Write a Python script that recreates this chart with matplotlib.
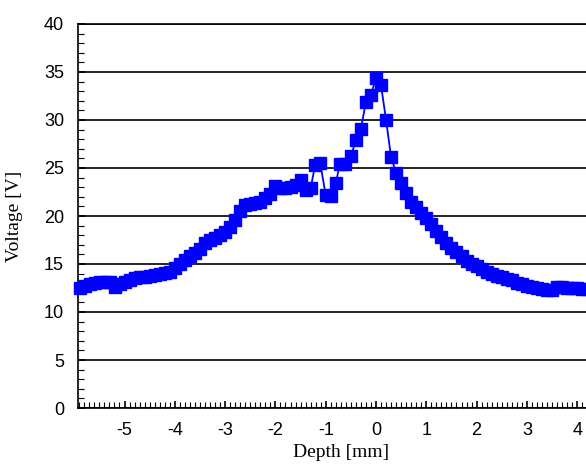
import matplotlib
matplotlib.use("Agg")
import matplotlib.pyplot as plt
from matplotlib.ticker import MultipleLocator

depth_mm = [-5.88, -5.79, -5.69, -5.59, -5.49, -5.39, -5.29, -5.18, -5.09, -4.99,
            -4.89, -4.79, -4.69, -4.59, -4.49, -4.39, -4.29, -4.19, -4.09, -3.99,
            -3.89, -3.80, -3.70, -3.60, -3.50, -3.40, -3.30, -3.20, -3.10, -3.00,
            -2.90, -2.80, -2.70, -2.60, -2.50, -2.40, -2.30, -2.20, -2.10, -2.00,
            -1.90, -1.80, -1.70, -1.60, -1.50, -1.40, -1.30, -1.21, -1.11, -1.00,
            -0.90, -0.80, -0.72, -0.62, -0.50, -0.40, -0.30, -0.20, -0.10, 0.00,
            0.10, 0.20, 0.30, 0.40, 0.50, 0.60, 0.70, 0.80, 0.90, 1.00,
            1.10, 1.20, 1.30, 1.40, 1.50, 1.60, 1.70, 1.80, 1.90, 2.00,
            2.10, 2.20, 2.30, 2.40, 2.50, 2.60, 2.70, 2.80, 2.90, 3.00,
            3.10, 3.20, 3.30, 3.40, 3.50, 3.60, 3.70, 3.80, 3.90, 4.00,
            4.10, 4.20]
voltage_v = [12.5, 12.7, 12.9, 13.0, 13.1, 13.1, 13.1, 12.6, 12.9, 13.1,
             13.3, 13.5, 13.6, 13.6, 13.8, 13.9, 14.0, 14.1, 14.2, 14.6,
             15.0, 15.4, 15.8, 16.1, 16.6, 17.2, 17.5, 17.7, 18.0, 18.3,
             18.9, 19.6, 20.5, 21.1, 21.3, 21.4, 21.5, 21.9, 22.3, 23.1,
             22.9, 22.9, 23.0, 23.2, 23.8, 22.7, 22.9, 25.3, 25.5, 22.2,
             22.1, 23.4, 25.4, 25.4, 26.2, 27.9, 29.1, 31.9, 32.6, 34.4,
             33.6, 30.0, 26.1, 24.5, 23.4, 22.4, 21.5, 20.9, 20.3, 19.8,
             19.2, 18.4, 17.8, 17.2, 16.7, 16.3, 15.8, 15.3, 15.0, 14.8,
             14.5, 14.2, 14.0, 13.8, 13.6, 13.4, 13.3, 13.0, 12.9, 12.7,
             12.6, 12.5, 12.4, 12.3, 12.3, 12.6, 12.6, 12.5, 12.5, 12.5,
             12.4, 12.4]
x_ticks = [-5, -4, -3, -2, -1, 0, 1, 2, 3, 4]
y_ticks = [0, 5, 10, 15, 20, 25, 30, 35, 40]

W, H = 586, 465
fig = plt.figure(figsize=(W / 100, H / 100), dpi=100)
ax = fig.add_axes([78 / W, 57 / H, 508 / W, 384 / H])

ax.plot(depth_mm, voltage_v, color="#0000ff", lw=1.3, marker="s", ms=9.3,
        mec="#0000ff", mfc="#0000ff", clip_on=False, zorder=3)

ax.set_xlim(-5.925, 4.175)
ax.set_ylim(0, 40)
ax.set_xticks(x_ticks)
ax.set_yticks(y_ticks)
ax.set_xticklabels([str(t) for t in x_ticks])
ax.set_yticklabels([str(t) for t in y_ticks])
ax.xaxis.set_minor_locator(MultipleLocator(0.1))
ax.yaxis.set_minor_locator(MultipleLocator(1))

ax.grid(axis="y", which="major", color="black", lw=1.2)
ax.set_axisbelow(True)
ax.spines["right"].set_visible(False)
for s in ["left", "bottom", "top"]:
    ax.spines[s].set_linewidth(1.2)

ax.tick_params(axis="both", which="both", direction="in", top=False, right=False)
ax.tick_params(axis="x", which="major", length=5, width=1.2, pad=10, labelsize=13)
ax.tick_params(axis="x", which="minor", length=4, width=0.8)
ax.tick_params(axis="y", which="major", length=5, width=1.2, pad=10, labelsize=13)
ax.tick_params(axis="y", which="minor", length=4, width=0.8)
for lab in ax.get_xticklabels() + ax.get_yticklabels():
    lab.set_fontfamily("Liberation Sans")

ax.set_xlabel("Depth [mm]", fontsize=14, family="Liberation Serif")
ax.set_ylabel("Voltage [V]", fontsize=14, family="Liberation Serif")
ax.xaxis.set_label_coords(0.518, -0.095)
ax.yaxis.set_label_coords(-0.108, 0.5)

fig.savefig("out.png", dpi=100)
